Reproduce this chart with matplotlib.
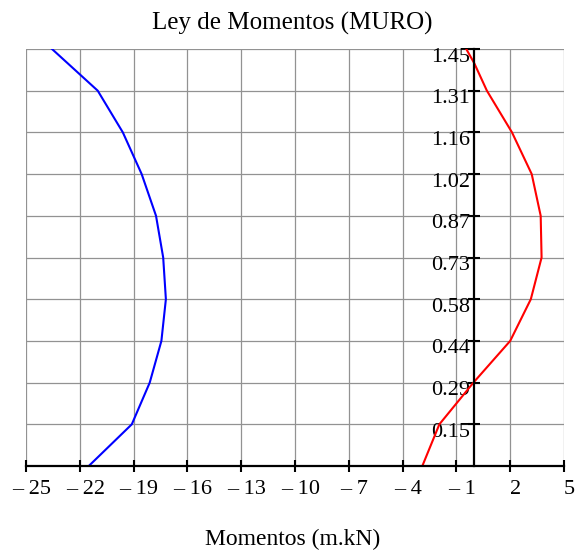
import numpy as np
import matplotlib.pyplot as plt
import matplotlib.transforms as mtransforms

# alturas (m) y momentos (m.kN)
altura = [0.0, 0.145, 0.29, 0.435, 0.58, 0.725, 0.87, 1.015, 1.16, 1.305, 1.45]
mom_azul = [-21.5, -19.1, -18.1, -17.45, -17.2, -17.35, -17.75, -18.55, -19.6, -21.0, -23.55]
altura_rojo = [0.0, 0.145, 0.29, 0.435, 0.58, 0.725, 0.87, 1.015, 1.16, 1.305, 1.40, 1.45]
mom_rojo = [-2.9, -1.95, -0.05, 2.0, 3.15, 3.75, 3.7, 3.2, 2.1, 0.7, 0.0, -0.45]

xticks = [-25, -22, -19, -16, -13, -10, -7, -4, -1, 2, 5]
xtick_labels = ["\u2013 25", "\u2013 22", "\u2013 19", "\u2013 16", "\u2013 13", "\u2013 10",
                "\u2013 7", "\u2013 4", "\u2013 1", "2", "5"]
yticks = [0.145, 0.29, 0.435, 0.58, 0.725, 0.87, 1.015, 1.16, 1.305, 1.45]
ytick_labels = ["0.15", "0.29", "0.44", "0.58", "0.73", "0.87", "1.02", "1.16", "1.31", "1.45"]

plt.rcParams['font.family'] = ['Liberation Serif', 'DejaVu Serif']

fig = plt.figure(figsize=(5.76, 5.51), dpi=100)
ax = fig.add_axes([26 / 576, 85 / 551, 538 / 576, 417 / 551])

ax.set_xlim(-25, 5)
ax.set_ylim(0, 1.45)

# rejilla
for xv in xticks:
    ax.axvline(xv, color="#929292", lw=0.9, zorder=0)
for yv in yticks:
    ax.axhline(yv, color="#929292", lw=0.9, zorder=0)

ax.plot(mom_azul, altura, color="blue", lw=1.5, zorder=3)
ax.plot(mom_rojo, altura_rojo, color="red", lw=1.5, zorder=3)

for s in ["top", "right"]:
    ax.spines[s].set_visible(False)
for s in ["left", "bottom"]:
    ax.spines[s].set_position(("data", 0))
    ax.spines[s].set_linewidth(1.6)
    ax.spines[s].set_zorder(4)

ax.set_xticks(xticks)
ax.set_xticklabels(xtick_labels)
ax.set_yticks(yticks)
ax.set_yticklabels(ytick_labels)
ax.tick_params(axis="x", direction="inout", length=8, width=1.5, pad=6, labelsize=16)
ax.tick_params(axis="y", direction="inout", length=9, width=1.5, pad=-1.5, labelsize=16)

dx = mtransforms.ScaledTranslation(5.5 / 100, 0, fig.dpi_scale_trans)
for lab in ax.get_xticklabels():
    lab.set_transform(lab.get_transform() + dx)
dy = mtransforms.ScaledTranslation(0, -5.5 / 100, fig.dpi_scale_trans)
for lab in ax.get_yticklabels():
    lab.set_transform(lab.get_transform() + dy)

fig.text(292.5 / 576, 1 - 23 / 551, "Ley de Momentos (MURO)", ha="center", va="center", fontsize=18)
fig.text(292.5 / 576, 1 - 539 / 551, "Momentos (m.kN)", ha="center", va="center", fontsize=17)

fig.savefig("out.png", dpi=100)
